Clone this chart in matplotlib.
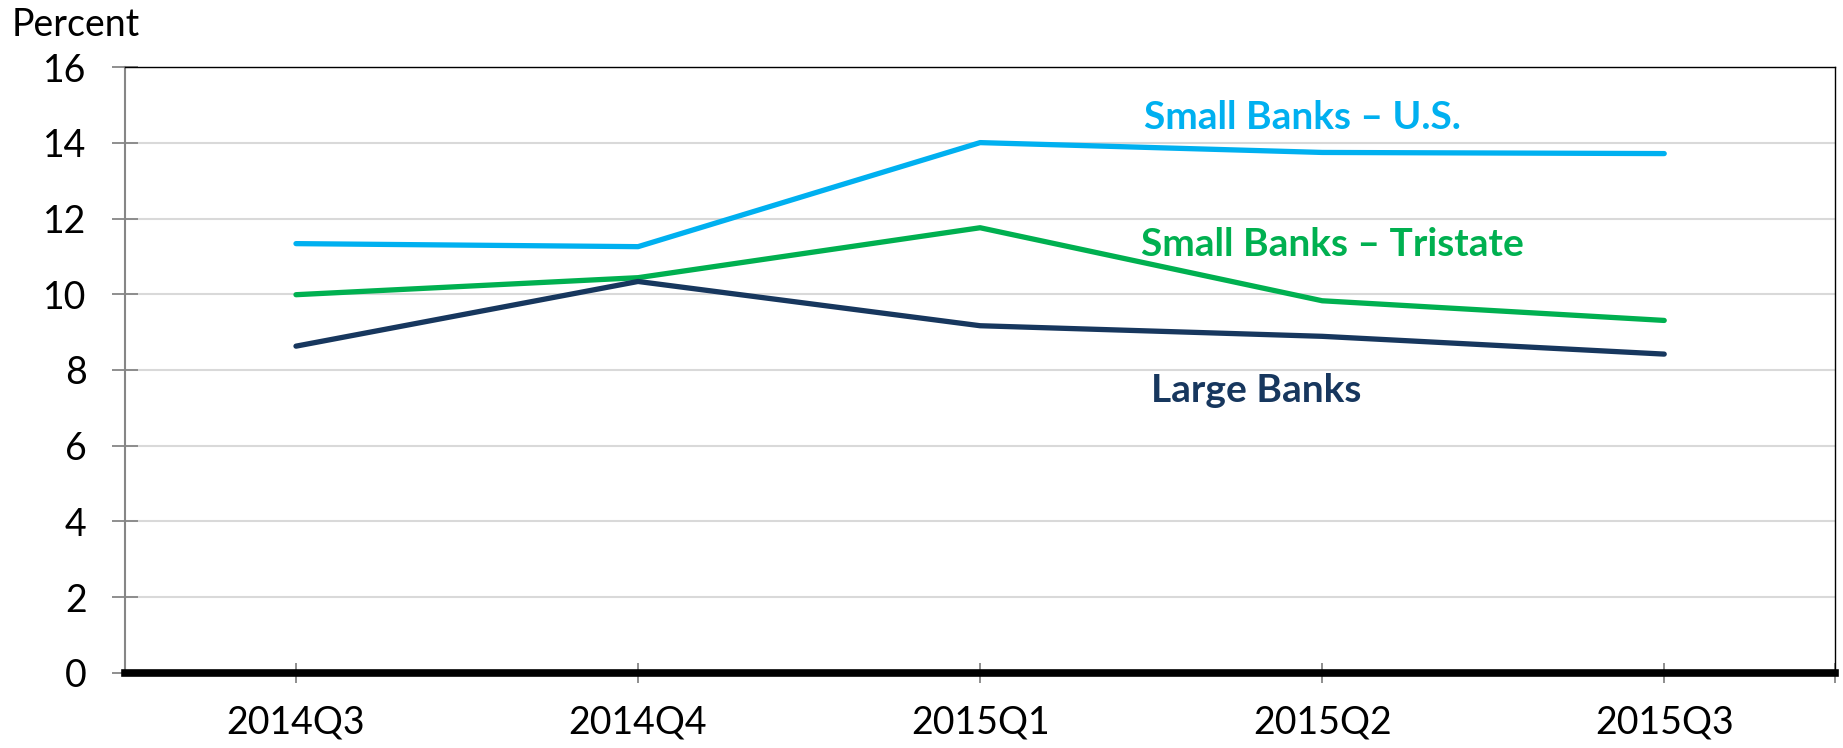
import numpy as np
import matplotlib
matplotlib.use('Agg')
import matplotlib.pyplot as plt

# data
quarters = ['2014Q3', '2014Q4', '2015Q1', '2015Q2', '2015Q3']
small_us = [11.34, 11.26, 14.01, 13.75, 13.72]
small_tristate = [9.99, 10.44, 11.76, 9.83, 9.31]
large_banks = [8.63, 10.34, 9.17, 8.89, 8.42]

plt.rcParams['font.family'] = ['Lato', 'DejaVu Sans']

fig = plt.figure(figsize=(18.43, 7.48), dpi=100)
ax = fig.add_axes([0.0678, 0.1007, 0.928, 0.8093])

x = np.arange(len(quarters))
ax.plot(x, small_us, color='#00B0F0', lw=3.8, solid_capstyle='round', zorder=3)
ax.plot(x, small_tristate, color='#00B050', lw=3.8, solid_capstyle='round', zorder=3)
ax.plot(x, large_banks, color='#17375E', lw=3.8, solid_capstyle='round', zorder=3)

ax.set_xlim(-0.5, 4.5)
ax.set_ylim(0, 16)
ax.set_yticks(range(0, 17, 2))
ax.set_xticks(x)
ax.set_xticklabels(quarters)
ax.set_xticks([4.5], minor=True)

ax.yaxis.grid(True, color='#D9D9D9', lw=1.5)
ax.set_axisbelow(True)

ax.tick_params(axis='y', direction='inout', length=19, width=1.3, color='#868686',
               labelsize=27, pad=18)
ax.tick_params(axis='x', which='both', direction='inout', length=14, width=1.3,
               color='#868686', labelsize=27, pad=16)

ax.spines['left'].set_color('#868686')
ax.spines['left'].set_linewidth(1.5)
ax.spines['top'].set_color('black')
ax.spines['top'].set_linewidth(1.0)
ax.spines['right'].set_color('black')
ax.spines['right'].set_linewidth(1.0)
ax.spines['bottom'].set_color('black')
ax.spines['bottom'].set_linewidth(5.5)
ax.spines['bottom'].set_zorder(4)

# series labels
ax.text(2.48, 14.67, 'Small Banks \u2013 U.S.', color='#00B0F0', fontsize=28,
        fontweight='bold', ha='left', va='center')
ax.text(2.47, 11.32, 'Small Banks \u2013 Tristate', color='#00B050', fontsize=28,
        fontweight='bold', ha='left', va='center')
ax.text(2.50, 7.47, 'Large Banks', color='#17375E', fontsize=28,
        fontweight='bold', ha='left', va='center')

fig.text(12 / 1843, 0.952, 'Percent', fontsize=27, ha='left', va='baseline')

fig.savefig('out.png', dpi=100)
